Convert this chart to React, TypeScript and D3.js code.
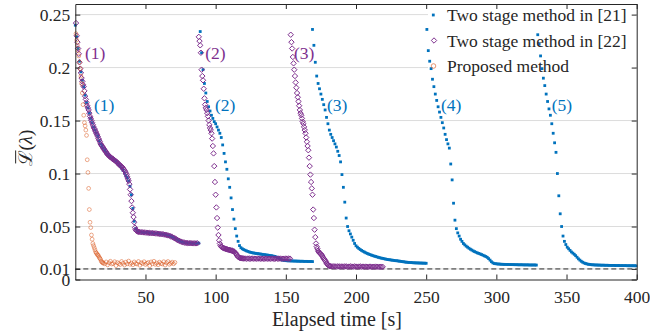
import { useRef, useEffect } from "react";
import * as d3 from "d3";

type Run = { start: number; step: number; values: number[] };

// Two stage method in [21]: one sample per second, run (1) .. (5)
const blueRun1 = [
  0.240, 0.229, 0.218, 0.206, 0.196, 0.188, 0.182, 0.174, 0.167, 0.162,
  0.157, 0.152, 0.148, 0.144, 0.141, 0.138, 0.135, 0.131, 0.128, 0.126,
  0.124, 0.122, 0.120, 0.118, 0.117, 0.1155, 0.1145, 0.1135, 0.1125, 0.1115,
  0.110, 0.1085, 0.107, 0.105, 0.103, 0.1005, 0.098, 0.096, 0.093, 0.088,
  0.080, 0.067, 0.055, 0.048, 0.0458, 0.0452, 0.0449, 0.0447, 0.0446, 0.0445,
  0.0444, 0.0443, 0.0441, 0.044, 0.0439, 0.0438, 0.0437, 0.0436, 0.0435, 0.0433,
  0.0432, 0.043, 0.0428, 0.0426, 0.0424, 0.0421, 0.0418, 0.0414, 0.0409, 0.0403,
  0.0396, 0.0389, 0.0381, 0.0373, 0.0366, 0.036, 0.0355, 0.0351, 0.0348, 0.0346,
  0.0345, 0.0344, 0.0343, 0.0343, 0.0342, 0.0342, 0.0342, 0.0342, 0.0343,
];
const blueRun2 = [
  0.234, 0.214, 0.198, 0.185, 0.176, 0.168, 0.163, 0.159, 0.155, 0.152,
  0.149, 0.147, 0.144, 0.141, 0.138, 0.134, 0.127, 0.119, 0.111, 0.104,
  0.095, 0.087, 0.077, 0.066, 0.057, 0.048, 0.041, 0.036, 0.032, 0.030,
  0.029, 0.0282, 0.0276, 0.027, 0.0265, 0.026, 0.0256, 0.0253, 0.025, 0.0248,
  0.0246, 0.0244, 0.0242, 0.024, 0.0238, 0.0236, 0.0234, 0.0232, 0.023, 0.0228,
  0.0226, 0.0224, 0.0221, 0.0218, 0.0214, 0.0208, 0.02, 0.0192, 0.0186, 0.0182,
  0.018, 0.0178, 0.0177, 0.0176, 0.0176, 0.0175, 0.0175, 0.0174, 0.0174, 0.0173,
  0.0173, 0.0172, 0.0172, 0.0172, 0.0171, 0.0171, 0.0171, 0.017, 0.017, 0.017,
  0.0169,
];
const blueRun3 = [
  0.236, 0.221, 0.205, 0.192, 0.185, 0.18, 0.175, 0.17, 0.165, 0.16,
  0.153, 0.147, 0.141, 0.137, 0.134, 0.131, 0.128, 0.125, 0.121, 0.117,
  0.111, 0.099, 0.087, 0.073, 0.058, 0.05, 0.046, 0.043, 0.04, 0.037,
  0.034, 0.0318, 0.0305, 0.0293, 0.0283, 0.0274, 0.0266, 0.0259, 0.0252, 0.0246,
  0.024, 0.0235, 0.023, 0.0225, 0.0221, 0.0217, 0.0213, 0.0209, 0.0205, 0.0202,
  0.0199, 0.0196, 0.0193, 0.019, 0.0188, 0.0186, 0.0184, 0.0182, 0.018, 0.0178,
  0.0177, 0.0175, 0.0173, 0.0171, 0.0169, 0.0167, 0.0165, 0.0163, 0.0162, 0.0161,
  0.016, 0.0159, 0.0158, 0.0157, 0.0157, 0.0156, 0.0156, 0.0155, 0.0155, 0.0154,
  0.0154, 0.0153,
];
const blueRun4 = [
  0.236, 0.216, 0.206, 0.199, 0.189, 0.182, 0.175, 0.169, 0.163, 0.158,
  0.153, 0.148, 0.143, 0.137, 0.132, 0.128, 0.124, 0.109, 0.094, 0.072,
  0.056, 0.048, 0.044, 0.041, 0.038, 0.036, 0.034, 0.0327, 0.0315, 0.0305,
  0.0295, 0.0286, 0.0278, 0.027, 0.0263, 0.0257, 0.0251, 0.0246, 0.0241, 0.0235,
  0.0229, 0.0223, 0.0217, 0.0209, 0.0197, 0.0183, 0.0168, 0.0157, 0.0151, 0.0149,
  0.0147, 0.0146, 0.0145, 0.0144, 0.0143, 0.0143, 0.0142, 0.0142, 0.0142, 0.0141,
  0.0141, 0.0141, 0.014, 0.014, 0.014, 0.0139, 0.0139, 0.0139, 0.0139, 0.0138,
  0.0138, 0.0138, 0.0138, 0.0137, 0.0137, 0.0137, 0.0137, 0.0137, 0.0136,
];
const blueRun5 = [
  0.231, 0.222, 0.211, 0.199, 0.19, 0.183, 0.175, 0.168, 0.161, 0.155,
  0.147, 0.138, 0.129, 0.12, 0.1, 0.079, 0.062, 0.05, 0.041, 0.036,
  0.033, 0.0305, 0.029, 0.0275, 0.026, 0.0249, 0.0238, 0.0225, 0.021, 0.0195,
  0.0183, 0.0172, 0.0163, 0.0156, 0.0151, 0.0147, 0.0144, 0.0142, 0.014, 0.0139,
  0.0138, 0.0137, 0.0137, 0.0136, 0.0136, 0.0135, 0.0135, 0.0135, 0.0134, 0.0134,
  0.0134, 0.0133, 0.0133, 0.0133, 0.0133, 0.0132, 0.0132, 0.0132, 0.0132, 0.0131,
  0.0131, 0.0131, 0.0131, 0.0131, 0.013, 0.013, 0.013, 0.013, 0.013, 0.013, 0.0129,
];

// Two stage method in [22]: denser samples while falling, 1 s on the plateaus
const purpleRun1Fall = [
  0.242, 0.23, 0.224, 0.218, 0.213, 0.205, 0.199, 0.195, 0.19, 0.187,
  0.184, 0.182, 0.178, 0.173, 0.17, 0.167, 0.164, 0.162, 0.16, 0.157,
  0.154, 0.152, 0.15, 0.148, 0.146, 0.144, 0.1425, 0.141, 0.1395, 0.138,
  0.1365, 0.135, 0.133, 0.1315, 0.13, 0.128, 0.127, 0.126, 0.125, 0.124,
  0.123, 0.122, 0.121, 0.12, 0.119, 0.118, 0.1175, 0.117, 0.116, 0.1155,
  0.115, 0.1145, 0.114, 0.1135, 0.113, 0.1125, 0.112, 0.1115, 0.111, 0.11,
  0.1095, 0.109, 0.108, 0.1075, 0.107, 0.1065, 0.106, 0.105, 0.104, 0.103,
  0.102, 0.1005, 0.099, 0.097, 0.095, 0.093, 0.09, 0.085, 0.08, 0.074,
  0.068, 0.063, 0.059, 0.054, 0.049, 0.047, 0.0462, 0.0456, 0.0452, 0.045,
];
const purpleRun1Tail = [
  0.0448, 0.0446, 0.0445, 0.0444, 0.0443, 0.0442, 0.044, 0.0439, 0.0438, 0.0437,
  0.0436, 0.0435, 0.0434, 0.0432, 0.0431, 0.0429, 0.0427, 0.0425, 0.0423, 0.042,
  0.0417, 0.0413, 0.0408, 0.0402, 0.0395, 0.0388, 0.038, 0.0372, 0.0365, 0.0359,
  0.0354, 0.035, 0.0347, 0.0345, 0.0344, 0.0343, 0.0342, 0.0342, 0.0341, 0.0341,
  0.0341, 0.0342,
];
const purpleRun2Fall = [
  0.229, 0.225, 0.221, 0.214, 0.198, 0.192, 0.188, 0.18, 0.171, 0.165,
  0.162, 0.16, 0.157, 0.154, 0.15, 0.146, 0.143, 0.141, 0.138, 0.133,
  0.126, 0.119, 0.107, 0.092, 0.08, 0.068, 0.058, 0.049, 0.042, 0.037,
  0.034, 0.032, 0.031, 0.0305, 0.03, 0.0298, 0.0295, 0.0292, 0.029, 0.0287,
  0.0285, 0.0283, 0.0281, 0.028, 0.0278, 0.0276, 0.0274, 0.0272, 0.027, 0.0267,
  0.0264, 0.026, 0.0253, 0.0243, 0.0232, 0.0222, 0.0214, 0.0209, 0.0205, 0.0203,
  0.0201, 0.02, 0.0199, 0.0199, 0.0198,
];
const purpleRun2Tail = [
  0.0198, 0.0197, 0.0198, 0.0196, 0.0197, 0.0198, 0.0197, 0.0196, 0.0197, 0.0198,
  0.0197, 0.0196, 0.0197, 0.0197, 0.0196, 0.0198, 0.0197, 0.0196, 0.0197, 0.0198,
  0.0197, 0.0196, 0.0197, 0.0197, 0.0196, 0.0198, 0.0197, 0.0196, 0.0197, 0.0198,
  0.0197, 0.0196, 0.0197,
];
const purpleRun3Fall = [
  0.231, 0.224, 0.218, 0.21, 0.204, 0.198, 0.192, 0.186, 0.181, 0.176,
  0.172, 0.168, 0.164, 0.16, 0.157, 0.155, 0.152, 0.149, 0.147, 0.144,
  0.141, 0.138, 0.134, 0.13, 0.126, 0.122, 0.115, 0.107, 0.099, 0.092,
  0.086, 0.08, 0.066, 0.058, 0.047, 0.04, 0.034, 0.031, 0.029, 0.027,
  0.026, 0.025, 0.0245, 0.024, 0.0232, 0.0222, 0.021, 0.0198, 0.0188, 0.018,
  0.0168, 0.0155, 0.0145, 0.0138, 0.0132, 0.0128, 0.0126, 0.0125,
];
const purpleRun3Tail = [
  0.0124, 0.0123, 0.0124, 0.0122, 0.0123, 0.0124, 0.0122, 0.0123, 0.0122, 0.0124,
  0.0123, 0.0121, 0.0122, 0.0123, 0.0122, 0.0121, 0.0123, 0.0122, 0.0121, 0.0122,
  0.0123, 0.0121, 0.0122, 0.0121, 0.0122, 0.012, 0.0121, 0.0122, 0.0121, 0.012,
  0.0121, 0.0122, 0.012, 0.0121, 0.012, 0.0121, 0.012,
];

// Proposed method
const proposedFall = [
  0.232, 0.226, 0.221, 0.216, 0.211, 0.205, 0.199, 0.192, 0.185, 0.176,
  0.165, 0.155, 0.148, 0.145, 0.141, 0.136, 0.113, 0.101, 0.086, 0.066,
  0.054, 0.049, 0.042, 0.038, 0.034, 0.032, 0.03, 0.028, 0.026, 0.025,
  0.024, 0.023, 0.0225, 0.021, 0.02, 0.019, 0.0172, 0.0165, 0.0158, 0.0154,
];
const proposedPlateau = [
  0.0148, 0.0166, 0.0138, 0.0157, 0.0172, 0.0146, 0.0151, 0.0168, 0.0131, 0.016,
  0.015, 0.0141, 0.017, 0.0153, 0.0136, 0.0164, 0.0148, 0.0174, 0.0143, 0.0155,
  0.0139, 0.0166, 0.0151, 0.0146, 0.017, 0.0134, 0.0158, 0.015, 0.0168, 0.0142,
  0.0153, 0.0161, 0.013, 0.0166, 0.0148, 0.0172, 0.0143, 0.0156, 0.0139, 0.0164,
  0.0151, 0.0146, 0.0168, 0.0136, 0.0158, 0.017, 0.0143, 0.0153, 0.0164, 0.0148,
  0.0161,
];

const blueRuns: Run[] = [
  { start: 0, step: 1, values: blueRun1 },
  { start: 89, step: 1, values: blueRun2 },
  { start: 169, step: 1, values: blueRun3 },
  { start: 250.5, step: 1, values: blueRun4 },
  { start: 329.5, step: 1, values: blueRun5 },
];
const purpleRuns: Run[] = [
  { start: 0.5, step: 0.5, values: purpleRun1Fall },
  { start: 46, step: 1, values: purpleRun1Tail },
  { start: 88, step: 0.5, values: purpleRun2Fall },
  { start: 121, step: 1, values: purpleRun2Tail },
  { start: 153.5, step: 0.5, values: purpleRun3Fall },
  { start: 183, step: 1, values: purpleRun3Tail },
];
const proposedRuns: Run[] = [
  { start: 0.5, step: 0.5, values: proposedFall },
  { start: 21, step: 1, values: proposedPlateau },
];

const xTicks = [50, 100, 150, 200, 250, 300, 350, 400];
const yTicks = [0, 0.01, 0.05, 0.1, 0.15, 0.2, 0.25];
const yTickLabels = ["0", "0.01", "0.05", "0.1", "0.15", "0.2", "0.25"];
const threshold = 0.01;
const legendLabels = [
  "Two stage method in [21]",
  "Two stage method in [22]",
  "Proposed method",
];
const runLabels = ["(1)", "(2)", "(3)", "(4)", "(5)"];
const blueLabelAt = [13.3, 99.5, 179.3, 260.5, 339.5];
const purpleLabelAt = [6.9, 92.6, 155.8];
const blueLabelLevel = 0.1645;
const purpleLabelLevel = 0.2135;

const BLUE = "#0072BD";
const PURPLE = "#7E2F8E";
const ORANGE = "#D95319";
const FONT = "'Liberation Serif', 'Times New Roman', serif";

function samples(runs: Run[]) {
  return runs.flatMap((r) =>
    r.values.map((v, i) => ({ t: r.start + i * r.step, v })),
  );
}

export default function App() {
  const svgRef = useRef<SVGSVGElement>(null);

  useEffect(() => {
    document.body.style.margin = "0";
    if (!svgRef.current) return;
    const svg = d3.select(svgRef.current);
    svg.selectAll("*").remove();

    const W = 650;
    const H = 333;
    const left = 75.3;
    const right = 636.7;
    const top = 4;
    const bottom = 279.5;

    const x = d3.scaleLinear().domain([0, 400]).range([left, right]);
    const y = d3.scaleLinear().domain([0, 0.26]).range([bottom, top]);

    svg.append("rect").attr("width", W).attr("height", H).attr("fill", "#fff");

    // grid
    svg
      .append("g")
      .selectAll("line")
      .data(yTicks.filter((d) => d > 0))
      .join("line")
      .attr("x1", left)
      .attr("x2", right)
      .attr("y1", (d) => y(d))
      .attr("y2", (d) => y(d))
      .attr("stroke", "#dcdcdc")
      .attr("stroke-width", 1);

    svg
      .append("line")
      .attr("x1", left)
      .attr("x2", right)
      .attr("y1", y(threshold))
      .attr("y2", y(threshold))
      .attr("stroke", "#7f7f7f")
      .attr("stroke-width", 1.6)
      .attr("stroke-dasharray", "5,3");

    // legend background hides the grid, not the data
    svg
      .append("rect")
      .attr("x", 428)
      .attr("y", top + 1)
      .attr("width", right - 428 - 1)
      .attr("height", 74)
      .attr("fill", "#fff");

    svg
      .append("g")
      .selectAll("rect")
      .data(samples(blueRuns))
      .join("rect")
      .attr("x", (d) => x(d.t) - 1.4)
      .attr("y", (d) => y(d.v) - 1.4)
      .attr("width", 2.8)
      .attr("height", 2.8)
      .attr("fill", BLUE);

    const diamond = "M0,-2.7L2.7,0L0,2.7L-2.7,0Z";
    svg
      .append("g")
      .selectAll("path")
      .data(samples(purpleRuns))
      .join("path")
      .attr("d", diamond)
      .attr("transform", (d) => `translate(${x(d.t)},${y(d.v)})`)
      .attr("fill", "none")
      .attr("stroke", PURPLE)
      .attr("stroke-width", 1);

    svg
      .append("g")
      .selectAll("circle")
      .data(samples(proposedRuns))
      .join("circle")
      .attr("cx", (d) => x(d.t))
      .attr("cy", (d) => y(d.v))
      .attr("r", 1.9)
      .attr("fill", "none")
      .attr("stroke", ORANGE)
      .attr("stroke-opacity", 0.55)
      .attr("stroke-width", 0.9);

    // run labels
    const labels = svg.append("g").attr("font-family", FONT).attr("font-size", 17.5);
    labels
      .selectAll("text.blue")
      .data(blueLabelAt)
      .join("text")
      .attr("class", "blue")
      .attr("x", (d) => x(d))
      .attr("y", y(blueLabelLevel))
      .attr("dy", "0.35em")
      .attr("fill", BLUE)
      .text((_, i) => runLabels[i]);
    labels
      .selectAll("text.purple")
      .data(purpleLabelAt)
      .join("text")
      .attr("class", "purple")
      .attr("x", (d) => x(d))
      .attr("y", y(purpleLabelLevel))
      .attr("dy", "0.35em")
      .attr("fill", PURPLE)
      .text((_, i) => runLabels[i]);

    // axes box with inward ticks
    const ink = "#262626";
    const gx = svg
      .append("g")
      .attr("transform", `translate(0,${bottom})`)
      .call(
        d3
          .axisBottom(x)
          .tickValues(xTicks)
          .tickSizeInner(-5)
          .tickSizeOuter(0)
          .tickPadding(11)
          .tickFormat(d3.format("d")),
      );
    svg
      .append("g")
      .attr("transform", `translate(0,${top})`)
      .call(
        d3.axisTop(x).tickValues(xTicks).tickSizeInner(-5).tickSizeOuter(0).tickFormat(() => ""),
      );
    const gy = svg
      .append("g")
      .attr("transform", `translate(${left},0)`)
      .call(
        d3
          .axisLeft(y)
          .tickValues(yTicks)
          .tickSizeInner(-5)
          .tickSizeOuter(0)
          .tickPadding(5)
          .tickFormat((d) => yTickLabels[yTicks.indexOf(+d)]),
      );
    svg
      .append("g")
      .attr("transform", `translate(${right},0)`)
      .call(
        d3.axisRight(y).tickValues(yTicks).tickSizeInner(-5).tickSizeOuter(0).tickFormat(() => ""),
      );

    svg.selectAll(".domain, .tick line").attr("stroke", ink).attr("stroke-width", 1);
    [gx, gy].forEach((g) =>
      g.attr("font-family", FONT).attr("font-size", 17.5).selectAll("text").attr("fill", ink),
    );

    svg
      .append("text")
      .attr("x", 337)
      .attr("y", 326)
      .attr("text-anchor", "middle")
      .attr("font-family", FONT)
      .attr("font-size", 20)
      .attr("fill", ink)
      .text("Elapsed time [s]");

    // y label: script L with a bar, then (lambda)
    const ylg = svg.append("g").attr("transform", "translate(25,148) rotate(-90)");
    const yl = ylg
      .append("text")
      .attr("text-anchor", "middle")
      .attr("dy", "0.35em")
      .attr("font-family", FONT)
      .attr("font-size", 19)
      .attr("fill", ink);
    yl.append("tspan").attr("font-family", "'DejaVu Serif', serif").text("\u2112");
    yl.append("tspan").text("(");
    yl.append("tspan").attr("font-style", "italic").text("\u03bb");
    yl.append("tspan").text(")");
    const ext = (yl.node() as SVGTextElement).getExtentOfChar(0);
    ylg
      .append("line")
      .attr("x1", ext.x + 3)
      .attr("x2", ext.x + ext.width)
      .attr("y1", ext.y + 2)
      .attr("y2", ext.y + 2)
      .attr("stroke", ink)
      .attr("stroke-width", 1);

    // legend
    const lg = svg.append("g").attr("font-family", FONT).attr("font-size", 17.5).attr("fill", ink);
    const rows = [15, 40.5, 66];
    lg.selectAll("text")
      .data(legendLabels)
      .join("text")
      .attr("x", 447)
      .attr("y", (_, i) => rows[i])
      .attr("dy", "0.35em")
      .text((d) => d);
    lg.append("rect")
      .attr("x", 433.3 - 1.4)
      .attr("y", rows[0] - 1.4)
      .attr("width", 2.8)
      .attr("height", 2.8)
      .attr("fill", BLUE);
    lg.append("path")
      .attr("d", diamond)
      .attr("transform", `translate(434,${rows[1]})`)
      .attr("fill", "none")
      .attr("stroke", PURPLE);
    lg.append("circle")
      .attr("cx", 433.5)
      .attr("cy", rows[2])
      .attr("r", 2.3)
      .attr("fill", "none")
      .attr("stroke", ORANGE)
      .attr("stroke-opacity", 0.6);
  }, []);

  return <svg ref={svgRef} width={650} height={333} style={{ display: "block" }} />;
}
